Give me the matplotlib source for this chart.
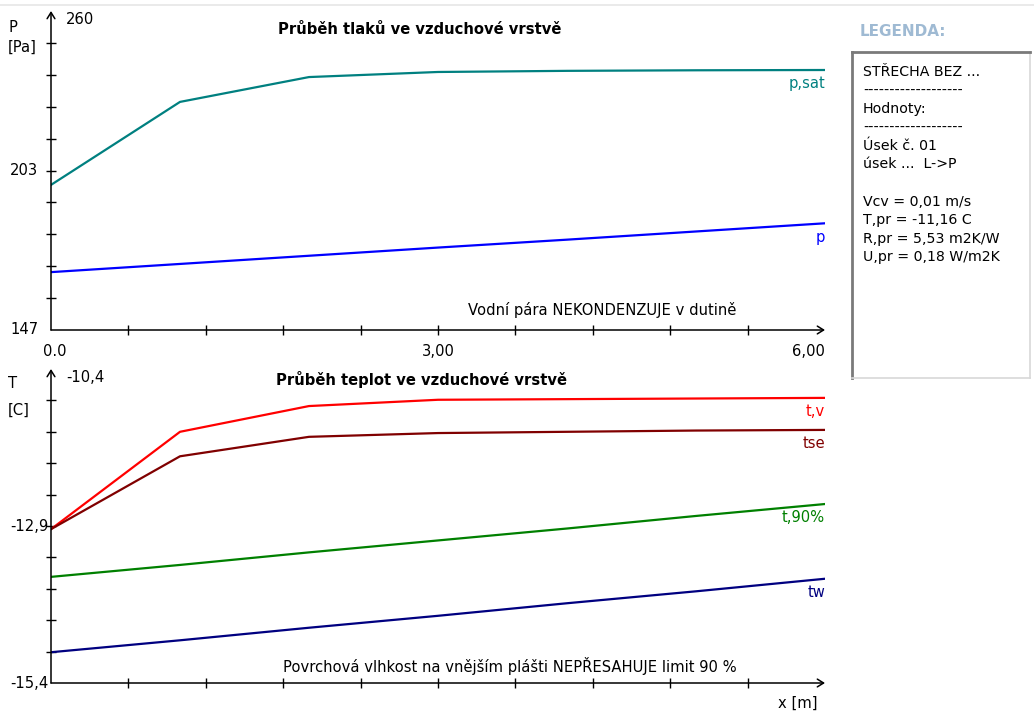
import numpy as np
import matplotlib
matplotlib.use("Agg")
import matplotlib.pyplot as plt
from matplotlib import transforms

# ---- data -------------------------------------------------------------
x_m = [0.0, 1.0, 2.0, 3.0, 4.0, 5.0, 6.0]

# pressures in the air layer [Pa]
p_sat = [198.4, 227.8, 236.6, 238.4, 238.8, 239.0, 239.1]
p_val = [167.5, 170.4, 173.3, 176.2, 179.0, 181.9, 184.8]

# temperatures in the air layer [C]
t_v = [-12.95, -11.40, -10.99, -10.89, -10.88, -10.87, -10.86]
t_se = [-12.95, -11.79, -11.48, -11.42, -11.40, -11.38, -11.37]
t_90 = [-13.71, -13.52, -13.32, -13.13, -12.94, -12.74, -12.55]
t_w = [-14.91, -14.72, -14.52, -14.33, -14.13, -13.94, -13.74]

p_range = (147, 260)
t_range = (-15.4, -10.4)
x_range = (0.0, 6.0)

p_labels = ["147", "203", "260"]
t_labels = ["-15,4", "-12,9", "-10,4"]
x_labels = ["0.0", "3,00", "6,00"]

legend_lines = [
    "STŘECHA BEZ ...",
    "-------------------",
    "Hodnoty:",
    "-------------------",
    "Úsek č. 01",
    "úsek ...  L->P",
    "",
    "Vcv = 0,01 m/s",
    "T,pr = -11,16 C",
    "R,pr = 5,53 m2K/W",
    "U,pr = 0,18 W/m2K",
]

# ---- figure -----------------------------------------------------------
W, H = 1034, 711
fig = plt.figure(figsize=(W / 100, H / 100), dpi=100)
plt.rcParams["font.family"] = ["DejaVu Sans"]
FS = 10.6
FS_LEG = 10.2


def px_axes(x0, y0, x1, y1):
    """Axes placed by pixel box (top-left origin)."""
    return fig.add_axes([x0 / W, 1 - y1 / H, (x1 - x0) / W, (y1 - y0) / H])


# thin window border line at the very top
fig.add_artist(plt.Line2D([0, 1], [1 - 5 / H, 1 - 5 / H], color="#e6e6e6", lw=1.2,
                          transform=fig.transFigure))


def setup_axis(ax, yr):
    ax.set_xlim(*x_range)
    ax.set_ylim(*yr)
    for s in ax.spines.values():
        s.set_visible(False)
    ax.set_xticks(np.linspace(x_range[0], x_range[1], 11)[1:-1])
    ax.set_yticks(np.linspace(yr[0], yr[1], 11)[1:-1])
    ax.tick_params(direction="inout", length=7, width=1, colors="black",
                   labelleft=False, labelbottom=False)
    arrow = dict(arrowstyle="->,head_length=0.45,head_width=0.28", lw=1.1,
                 color="black", shrinkA=0, shrinkB=0)
    ax.annotate("", xy=(0, 1), xytext=(0, 0), xycoords="axes fraction",
                arrowprops=arrow, annotation_clip=False)
    ax.annotate("", xy=(1, 0), xytext=(0, 0), xycoords="axes fraction",
                arrowprops=arrow, annotation_clip=False)
    ax.patch.set_visible(False)


def end_label(ax, series, text, color):
    ax.annotate(text, xy=(x_range[1], series[-1]), xytext=(0, -10),
                textcoords="offset points", ha="right", va="center",
                color=color, fontsize=FS)


# ---- pressure panel ---------------------------------------------------
ax1 = px_axes(51, 11, 825, 330)
setup_axis(ax1, p_range)
ax1.plot(x_m, p_sat, color="#008080", lw=1.6)
ax1.plot(x_m, p_val, color="#0000ff", lw=1.6)
end_label(ax1, p_sat, "p,sat", "#008080")
end_label(ax1, p_val, "p", "#0000ff")

lt1 = transforms.blended_transform_factory(fig.transFigure, ax1.transData)
ax1.text(10 / W, p_range[0], p_labels[0], transform=lt1, ha="left", va="center", fontsize=FS)
ax1.text(10 / W, (p_range[0] + p_range[1]) / 2, p_labels[1], transform=lt1,
         ha="left", va="center", fontsize=FS)
ax1.annotate(p_labels[2], xy=(0, p_range[1]), xytext=(11, -6), textcoords="offset points",
             ha="left", va="center", fontsize=FS)
ax1.text(8 / W, 1 - 28 / H, "P", transform=fig.transFigure, ha="left", va="center", fontsize=FS)
ax1.text(8 / W, 1 - 47 / H, "[Pa]", transform=fig.transFigure, ha="left", va="center", fontsize=FS)

bt1 = transforms.blended_transform_factory(ax1.transData, fig.transFigure)
ax1.text(x_range[0] + 0.03, 1 - 352 / H, x_labels[0], transform=bt1, ha="center", va="center", fontsize=FS)
ax1.text((x_range[0] + x_range[1]) / 2, 1 - 352 / H, x_labels[1], transform=bt1,
         ha="center", va="center", fontsize=FS)
ax1.text(x_range[1], 1 - 352 / H, x_labels[2], transform=bt1, ha="right", va="center", fontsize=FS)

ax1.text(420 / W, 1 - 29 / H, "Průběh tlaků ve vzduchové vrstvě", transform=fig.transFigure,
         ha="center", va="center", fontsize=FS, fontweight="bold")
ax1.text(602 / W, 1 - 310 / H, "Vodní pára NEKONDENZUJE v dutině", transform=fig.transFigure,
         ha="center", va="center", fontsize=FS)

# ---- temperature panel ------------------------------------------------
ax2 = px_axes(51, 369, 825, 683)
setup_axis(ax2, t_range)
ax2.plot(x_m, t_v, color="#ff0000", lw=1.6)
ax2.plot(x_m, t_se, color="#800000", lw=1.6)
ax2.plot(x_m, t_90, color="#008000", lw=1.6)
ax2.plot(x_m, t_w, color="#000080", lw=1.6)
end_label(ax2, t_v, "t,v", "#ff0000")
end_label(ax2, t_se, "tse", "#800000")
end_label(ax2, t_90, "t,90%", "#008000")
end_label(ax2, t_w, "tw", "#000080")

lt2 = transforms.blended_transform_factory(fig.transFigure, ax2.transData)
ax2.text(10 / W, t_range[0], t_labels[0], transform=lt2, ha="left", va="center", fontsize=FS)
ax2.text(10 / W, (t_range[0] + t_range[1]) / 2, t_labels[1], transform=lt2,
         ha="left", va="center", fontsize=FS)
ax2.annotate(t_labels[2], xy=(0, t_range[1]), xytext=(11, -6), textcoords="offset points",
             ha="left", va="center", fontsize=FS)
ax2.text(8 / W, 1 - 383 / H, "T", transform=fig.transFigure, ha="left", va="center", fontsize=FS)
ax2.text(8 / W, 1 - 410 / H, "[C]", transform=fig.transFigure, ha="left", va="center", fontsize=FS)
ax2.text(818 / W, 1 - 703 / H, "x [m]", transform=fig.transFigure, ha="right", va="center", fontsize=FS)

ax2.text(421 / W, 1 - 380 / H, "Průběh teplot ve vzduchové vrstvě", transform=fig.transFigure,
         ha="center", va="center", fontsize=FS, fontweight="bold")
ax2.text(510 / W, 1 - 666 / H, "Povrchová vlhkost na vnějším plášti NEPŘESAHUJE limit 90 %",
         transform=fig.transFigure, ha="center", va="center", fontsize=FS)

# ---- legend panel -----------------------------------------------------
fig.text(860 / W, 1 - 32 / H, "LEGENDA:", ha="left", va="center", fontsize=11,
         fontweight="bold", color="#9fbad3")
axl = px_axes(852, 52, 1030, 378)
axl.set_xticks([])
axl.set_yticks([])
axl.set_xlim(0, 178)
axl.set_ylim(326, 0)
for side in ("left", "top"):
    axl.spines[side].set_color("#7a7a7a")
    axl.spines[side].set_linewidth(2.0)
for side in ("right", "bottom"):
    axl.spines[side].set_color("#d8d8d8")
    axl.spines[side].set_linewidth(1.2)
for i, line in enumerate(legend_lines):
    axl.text(11, 20 + i * 18.5, line, ha="left", va="center", fontsize=FS_LEG)

fig.savefig("out.png", dpi=100, facecolor="white")
